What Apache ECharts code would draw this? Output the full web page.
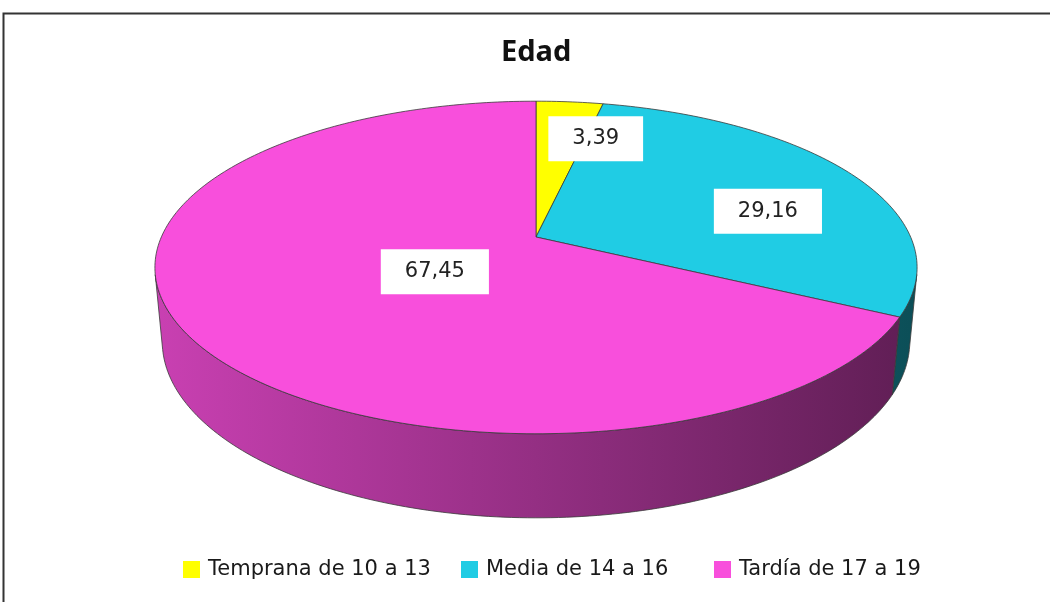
<!DOCTYPE html>
<html>
<head>
<meta charset="utf-8">
<title>Edad</title>
<script src="https://cdn.jsdelivr.net/npm/echarts@6/dist/echarts.min.js"></script>
<style>
  html, body { margin: 0; padding: 0; background: #fff; }
  #main { width: 1050px; height: 602px; }
</style>
</head>
<body>
<div id="main"></div>
<script>
// datos del grafico
const categories = ['Temprana de 10 a 13', 'Media de 14 a 16', 'Tardía de 17 a 19'];
const values = [3.39, 29.16, 67.45];
const colors = ['#FFFF00', '#20CCE4', '#F84FDC'];

// camara del pastel 3D (perspectiva simple)
const CX = 536, CY = 237;
const F = 1847, DIST = 4.93, H = 0.2187;
const ALPHA = 25.4 * Math.PI / 180;
const SIN_A = Math.sin(ALPHA), COS_A = Math.cos(ALPHA);
// angulo donde la pared lateral deja de verse
const SIDE_START = Math.acos(-1 / (DIST * COS_A));

// posicion de las etiquetas: radio relativo y ajuste fino
const labelR = [0.7, 0.75, 0.31];
const labelShift = [[35, 1], [-8, 23], [1, 8]];

function project(theta, r, z) {
    const X = r * Math.sin(theta);
    const Y = r * Math.cos(theta);
    const depth = DIST + Y * COS_A - z * SIN_A;
    return [CX + F * X / depth, CY - F * (Y * SIN_A + z * COS_A) / depth];
}

function shade(hex, f) {
    const n = parseInt(hex.slice(1), 16);
    const r = Math.round(((n >> 16) & 255) * f);
    const g = Math.round(((n >> 8) & 255) * f);
    const b = Math.round((n & 255) * f);
    return 'rgb(' + r + ',' + g + ',' + b + ')';
}

function arc(a0, a1, z) {
    const pts = [];
    const n = Math.max(2, Math.ceil((a1 - a0) * 180 / Math.PI));
    for (let k = 0; k <= n; k++) {
        pts.push(project(a0 + (a1 - a0) * k / n, 1, z));
    }
    return pts;
}

const total = values.reduce((s, v) => s + v, 0);
const starts = [];
let acc = 0;
values.forEach(v => { starts.push(acc); acc += v / total * Math.PI * 2; });

// extremos horizontales para el degradado lateral
let minX = Infinity, maxX = -Infinity;
for (let d = 0; d < 360; d++) {
    const p = project(d * Math.PI / 180, 1, 0);
    minX = Math.min(minX, p[0]);
    maxX = Math.max(maxX, p[0]);
}

const edge = '#3a3a3a';

function makeRender(i) {
    return function (params, api) {
        const a0 = starts[i];
        const a1 = a0 + api.value(0) / total * Math.PI * 2;
        const children = [];

        const b0 = Math.max(a0, SIDE_START);
        const b1 = Math.min(a1, Math.PI * 2 - SIDE_START);
        if (b1 > b0) {
            const side = arc(b0, b1, 0).concat(arc(b0, b1, -H).reverse());
            children.push({
                type: 'polygon',
                shape: { points: side },
                style: {
                    fill: new echarts.graphic.LinearGradient(minX, 0, maxX, 0, [
                        { offset: 0, color: shade(colors[i], 0.81) },
                        { offset: 1, color: shade(colors[i], 0.383) }
                    ], true),
                    stroke: edge,
                    lineWidth: 0.8
                }
            });
        }

        const top = [[CX, CY]].concat(arc(a0, a1, 0));
        children.push({
            type: 'polygon',
            shape: { points: top },
            style: { fill: colors[i], stroke: edge, lineWidth: 0.8 }
        });

        const mid = (a0 + a1) / 2;
        const p = project(mid, labelR[i], 0);
        children.push({
            type: 'text',
            z2: 10,
            style: {
                text: api.value(0).toFixed(2).replace('.', ','),
                x: p[0] + labelShift[i][0],
                y: p[1] + labelShift[i][1],
                align: 'center',
                verticalAlign: 'middle',
                fontFamily: 'DejaVu Sans',
                fontSize: 21,
                fill: '#222',
                backgroundColor: '#fff',
                padding: [12, 24, 12, 24]
            }
        });
        return { type: 'group', children: children };
    };
}

const legendLeft = [183, 461, 714];

const chart = echarts.init(document.getElementById('main'));
chart.setOption({
    animation: false,
    backgroundColor: '#fff',
    title: {
        text: 'Edad',
        left: 501,
        top: 38,
        padding: 0,
        textStyle: {
            fontFamily: 'Noto Sans',
            fontWeight: 'bold',
            fontSize: 29,
            color: '#111'
        }
    },
    legend: categories.map((name, i) => ({
        data: [name],
        left: legendLeft[i],
        top: 559,
        padding: 0,
        icon: 'rect',
        itemWidth: 17,
        itemHeight: 17,
        selectedMode: false,
        textStyle: {
            fontFamily: 'DejaVu Sans',
            fontSize: 21,
            color: '#1a1a1a',
            padding: [0, 0, 0, 3]
        }
    })),
    graphic: [{
        type: 'rect',
        silent: true,
        shape: { x: 3.5, y: 13.5, width: 1200, height: 800 },
        style: { fill: null, stroke: '#333', lineWidth: 2 }
    }],
    series: categories.map((name, i) => ({
        type: 'custom',
        name: name,
        coordinateSystem: 'none',
        silent: true,
        itemStyle: { color: colors[i] },
        data: [[values[i]]],
        renderItem: makeRender(i)
    }))
});
</script>
</body>
</html>
